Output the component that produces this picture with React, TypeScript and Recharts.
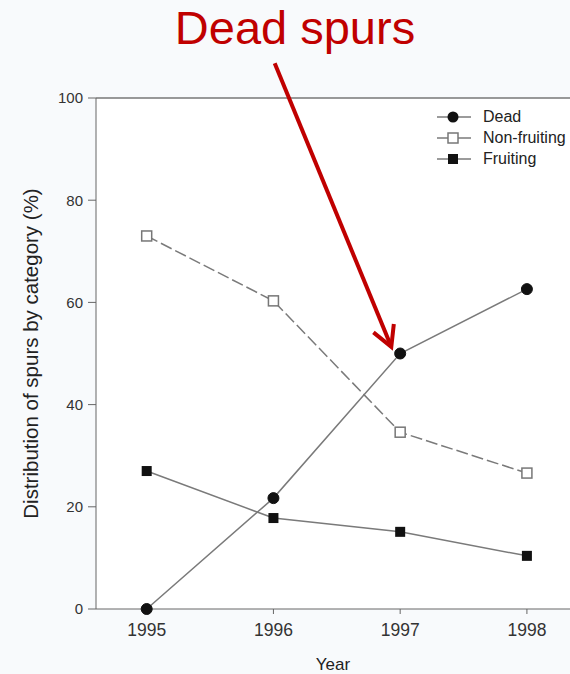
import React from 'react';
import { LineChart, Line, XAxis, YAxis, ReferenceLine, CartesianGrid } from 'recharts';

const years = [1995, 1996, 1997, 1998];
const dead = [0, 21.7, 50, 62.6];
const nonFruiting = [73, 60.3, 34.6, 26.6];
const fruiting = [27, 17.8, 15.1, 10.4];
const yTicks = [0, 20, 40, 60, 80, 100];
const seriesNames = ['Dead', 'Non-fruiting', 'Fruiting'];
const titleText = 'Dead spurs';
const yLabel = 'Distribution of spurs by category (%)';
const xLabel = 'Year';
const arrowFrom = { x: 1996.01, y: 106.8 };
const arrowTo = { x: 1996.93, y: 51.3 };

const data = years.map((y, i) => ({ year: y, dead: dead[i], non: nonFruiting[i], fruit: fruiting[i] }));

const FONT = 'Liberation Sans, Arial, sans-serif';
const LINE = '#7a7a7a';

const CircleDot = (p: any) => {
  if (p.cx == null || p.cy == null) return <g key={p.index} />;
  return <circle key={p.index} cx={p.cx} cy={p.cy} r={5.5} fill="#111" stroke="#111" />;
};
const OpenSquare = (p: any) => {
  if (p.cx == null || p.cy == null) return <g key={p.index} />;
  return <rect key={p.index} x={p.cx - 5} y={p.cy - 5} width={10} height={10} fill="#fff" stroke="#777" strokeWidth={1.5} />;
};
const FilledSquare = (p: any) => {
  if (p.cx == null || p.cy == null) return <g key={p.index} />;
  return <rect key={p.index} x={p.cx - 5} y={p.cy - 5} width={10} height={10} fill="#111" />;
};

const ArrowShape = (p: any) => {
  const { x1, y1, x2, y2 } = p;
  if ([x1, y1, x2, y2].some((v) => v == null || isNaN(v))) return <g />;
  const ang = Math.atan2(y2 - y1, x2 - x1);
  const len = 23;
  const spread = 0.5;
  const ax = x2 - len * Math.cos(ang - spread);
  const ay = y2 - len * Math.sin(ang - spread);
  const bx = x2 - len * Math.cos(ang + spread);
  const by = y2 - len * Math.sin(ang + spread);
  return (
    <g>
      <line x1={x1} y1={y1} x2={x2} y2={y2} stroke="#c00000" strokeWidth={4} />
      <polyline points={`${ax},${ay} ${x2},${y2} ${bx},${by}`} fill="none" stroke="#c00000" strokeWidth={4} strokeLinejoin="miter" />
    </g>
  );
};

const YLabelContent = (p: any) => {
  const vb = p.viewBox || { x: 26, y: 98, width: 70, height: 511 };
  const cx = vb.x + 4;
  const cy = vb.y + vb.height / 2;
  return (
    <text x={cx} y={cy} transform={`rotate(-90 ${cx} ${cy})`} textAnchor="middle" dominantBaseline="central" fontSize={20.5} fill="#222" fontFamily={FONT}>
      {yLabel}
    </text>
  );
};

const LegendRow = ({ name, marker }: { name: string; marker: string }) => (
  <div style={{ display: 'flex', alignItems: 'center', height: 21 }}>
    <svg width={46} height={14}>
      <line x1={2} y1={7} x2={36} y2={7} stroke={LINE} strokeWidth={1.5} />
      {marker === 'circle' && <circle cx={18} cy={7} r={5.5} fill="#111" />}
      {marker === 'open' && <rect x={13} y={2} width={10} height={10} fill="#fff" stroke="#777" strokeWidth={1.5} />}
      {marker === 'filled' && <rect x={13} y={2} width={10} height={10} fill="#111" />}
    </svg>
    <span style={{ fontSize: 16, color: '#222', fontFamily: FONT, marginLeft: 2 }}>{name}</span>
  </div>
);

export default function App() {
  return (
    <div style={{ position: 'absolute', left: 0, top: 0, width: 570, height: 674, background: '#f8fafc', overflow: 'hidden' }}>
      <div style={{ position: 'absolute', left: 0, top: 0, width: 590, textAlign: 'center', fontFamily: FONT, fontSize: 47, color: '#c00000', lineHeight: '56px' }}>
        {titleText}
      </div>
      <LineChart width={570} height={674} data={data} margin={{ top: 98, right: 0, left: 26, bottom: 35 }} style={{ position: 'absolute', left: 0, top: 0 }}>
        <CartesianGrid horizontal={false} vertical={false} fill="#ffffff" />
        <XAxis
          dataKey="year"
          type="number"
          domain={[1994.6, 1998.34]}
          ticks={years}
          allowDataOverflow
          height={30}
          tickSize={5}
          tickMargin={10}
          stroke="#666"
          tick={{ fontSize: 17.5, fill: '#333', fontFamily: FONT }}
          label={{ value: xLabel, position: 'insideBottom', offset: -31, fontSize: 17, fill: '#222', fontFamily: FONT }}
        />
        <YAxis
          type="number"
          domain={[0, 100]}
          ticks={yTicks}
          width={70}
          tickSize={8}
          tickMargin={5}
          stroke="#666"
          tick={{ fontSize: 15, fill: '#333', fontFamily: FONT }}
          label={<YLabelContent />}
        />
        <ReferenceLine y={100} stroke="#777" strokeWidth={1.5} ifOverflow="visible" />
        <Line dataKey="non" name={seriesNames[1]} stroke={LINE} strokeWidth={1.5} strokeDasharray="12 4" dot={OpenSquare} isAnimationActive={false} />
        <Line dataKey="fruit" name={seriesNames[2]} stroke={LINE} strokeWidth={1.5} dot={FilledSquare} isAnimationActive={false} />
        <Line dataKey="dead" name={seriesNames[0]} stroke={LINE} strokeWidth={1.5} dot={CircleDot} isAnimationActive={false} />
        <ReferenceLine segment={[arrowFrom, arrowTo]} ifOverflow="visible" shape={ArrowShape} />
      </LineChart>
      <div style={{ position: 'absolute', left: 435, top: 106 }}>
        <LegendRow name={seriesNames[0]} marker="circle" />
        <LegendRow name={seriesNames[1]} marker="open" />
        <LegendRow name={seriesNames[2]} marker="filled" />
      </div>
    </div>
  );
}
